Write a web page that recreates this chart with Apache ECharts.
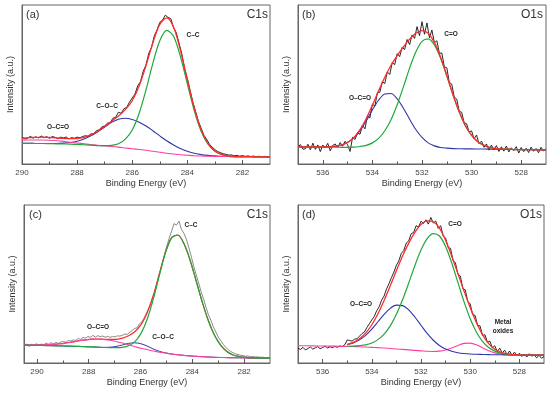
<!DOCTYPE html>
<html><head><meta charset="utf-8">
<script src="https://cdn.jsdelivr.net/npm/echarts@6/dist/echarts.min.js"></script>
<style>html,body{margin:0;padding:0;background:#fff}#c{width:550px;height:393px}</style>
</head><body><div id="c"></div>
<script>
// ---------- tick labels ----------
const ticksC1s = [282, 284, 286, 288, 290];
const minorC1s = [283, 285, 287, 289];
const ticksO1s = [528, 530, 532, 534, 536];
const minorO1s = [529, 531, 533, 535];

// ---------- energies ----------
const eRawA = [290.0,289.9,289.8,289.7,289.6,289.5,289.4,289.3,289.2,289.1,289.0,288.9,288.8,288.7,288.6,288.5,288.4,288.3,288.2,288.1,288.0,287.9,287.8,287.7,287.6,287.5,287.4,287.3,287.2,287.1,287.0,286.9,286.8,286.7,286.6,286.5,286.4,286.3,286.2,286.1,286.0,285.9,285.8,285.7,285.6,285.5,285.4,285.3,285.2,285.1,285.0,284.9,284.8,284.7,284.6,284.5,284.4,284.3,284.2,284.1,284.0,283.9,283.8,283.7,283.6,283.5,283.4,283.3,283.2,283.1,283.0,282.9,282.8,282.7,282.6,282.5,282.4,282.3,282.2,282.1,282.0,281.9,281.8,281.7,281.6,281.5,281.4,281.3,281.2,281.1,281.0];
const eFitA = [290,289.75,289.5,289.25,289,288.75,288.5,288.25,288,287.75,287.5,287.25,287,286.75,286.5,286.25,286,285.75,285.5,285.25,285,284.75,284.5,284.25,284,283.75,283.5,283.25,283,282.75,282.5,282.25,282,281.75,281.5,281.25,281];
const eRawC = [290.5,290.405,290.31,290.215,290.12,290.025,289.93,289.835,289.74,289.645,289.55,289.455,289.36,289.265,289.17,289.075,288.98,288.885,288.79,288.695,288.6,288.505,288.41,288.315,288.22,288.125,288.03,287.935,287.84,287.745,287.65,287.555,287.46,287.365,287.27,287.175,287.08,286.985,286.89,286.795,286.7,286.605,286.51,286.415,286.32,286.225,286.13,286.035,285.94,285.845,285.75,285.655,285.56,285.465,285.37,285.275,285.18,285.085,284.99,284.895,284.8,284.705,284.61,284.515,284.42,284.325,284.23,284.135,284.04,283.945,283.85,283.755,283.66,283.565,283.47,283.375,283.28,283.185,283.09,282.995,282.9,282.805,282.71,282.615,282.52,282.425,282.33,282.235,282.14,282.045,281.95,281.855,281.76,281.665,281.57,281.475,281.38,281.285,281.19,281.095,281.0];
const eFitC = [290.5,290.2625,290.025,289.7875,289.55,289.3125,289.075,288.8375,288.6,288.3625,288.125,287.8875,287.65,287.4125,287.175,286.9375,286.7,286.4625,286.225,285.9875,285.75,285.5125,285.275,285.0375,284.8,284.5625,284.325,284.0875,283.85,283.6125,283.375,283.1375,282.9,282.6625,282.425,282.1875,281.95,281.7125,281.475,281.2375,281.0];
const eRawO = [537.0,536.9,536.8,536.7,536.6,536.5,536.4,536.3,536.2,536.1,536.0,535.9,535.8,535.7,535.6,535.5,535.4,535.3,535.2,535.1,535.0,534.9,534.8,534.7,534.6,534.5,534.4,534.3,534.2,534.1,534.0,533.9,533.8,533.7,533.6,533.5,533.4,533.3,533.2,533.1,533.0,532.9,532.8,532.7,532.6,532.5,532.4,532.3,532.2,532.1,532.0,531.9,531.8,531.7,531.6,531.5,531.4,531.3,531.2,531.1,531.0,530.9,530.8,530.7,530.6,530.5,530.4,530.3,530.2,530.1,530.0,529.9,529.8,529.7,529.6,529.5,529.4,529.3,529.2,529.1,529.0,528.9,528.8,528.7,528.6,528.5,528.4,528.3,528.2,528.1,528.0,527.9,527.8,527.7,527.6,527.5,527.4,527.3,527.2,527.1,527.0];
const eFitO = [537,536.75,536.5,536.25,536,535.75,535.5,535.25,535,534.75,534.5,534.25,534,533.75,533.5,533.25,533,532.75,532.5,532.25,532,531.75,531.5,531.25,531,530.75,530.5,530.25,530,529.75,529.5,529.25,529,528.75,528.5,528.25,528,527.75,527.5,527.25,527];

// ---------- (a) C1s ----------
const aRaw = [16.9,15.8,16.2,17.4,16.3,17.1,16.4,17.6,16.5,17.2,16.1,17.3,16.8,15.9,16.9,16.4,17.0,15.8,16.6,16.2,16.9,16.5,17.3,17.8,17.4,18.9,19.0,20.9,21.5,23.4,23.9,25.6,26.0,28.8,29.4,32.6,31.9,34.8,35.6,38.9,41.5,44.0,49.2,51.8,58.4,62.3,69.7,73.2,80.6,84.3,89.1,90.5,93.6,92.2,91.4,85.7,82.6,75.9,69.3,60.2,53.8,46.4,38.9,33.1,26.9,22.6,18.1,15.6,12.5,10.6,9.1,7.8,7.2,6.4,6.1,5.6,5.7,5.2,5.4,4.9,5.3,4.8,5.1,4.7,5.0,4.6,4.9,4.5,4.8,4.4,4.7];
const aEnvelope = [16.3,16.6,16.7,16.9,16.7,16.4,16.1,15.9,16.0,16.8,18.3,20.6,23.6,26.9,30.2,34.2,39.8,49.0,61.9,76.3,87.8,91.9,86.1,71.5,52.9,35.2,21.5,12.9,8.2,6.0,5.1,4.7,4.6,4.6,4.5,4.5,4.5];
const aCC = [13.0,13.0,12.9,12.9,12.8,12.7,12.6,12.5,12.3,12.1,11.9,11.6,11.5,11.7,12.7,15.6,21.4,31.8,46.6,63.4,77.5,84.1,80.4,67.6,50.4,33.6,20.6,12.4,8.0,5.9,5.1,4.7,4.6,4.6,4.5,4.5,4.5];
const aCOC = [13.0,13.0,12.9,12.9,12.9,12.9,13.1,13.5,14.3,15.7,17.7,20.3,23.3,26.2,28.2,28.8,28.0,26.3,23.9,20.9,17.7,14.6,12.0,9.7,8.0,6.8,5.9,5.4,5.1,4.8,4.7,4.6,4.6,4.6,4.5,4.5,4.5];
const aOCO = [15.0,15.1,15.1,15.1,14.9,14.6,14.2,13.7,13.2,12.7,12.2,11.8,11.3,11.0,10.6,10.1,9.6,9.1,8.6,8.0,7.4,6.8,6.3,5.8,5.5,5.2,5.0,4.9,4.8,4.7,4.7,4.6,4.6,4.6,4.5,4.5,4.5];

// ---------- (b) O1s ----------
const bRaw = [10.9,12.2,9.3,9.6,12.4,8.9,13.1,9.2,12.0,7.8,11.9,10.1,13.0,8.3,11.7,12.6,10.4,13.5,11.2,14.3,12.1,7.9,16.8,15.4,19.6,18.7,24.5,22.1,30.2,29.0,37.6,36.4,44.9,45.1,51.8,50.6,57.9,56.3,63.8,62.5,69.4,67.6,73.5,72.0,78.3,75.1,81.2,79.0,86.4,80.7,89.5,81.6,88.7,79.4,84.2,76.3,77.5,69.6,69.8,61.2,60.5,51.4,50.2,42.1,40.8,33.2,32.5,25.9,25.3,20.2,20.8,15.9,18.2,12.8,14.4,10.5,12.6,8.7,11.9,8.8,11.6,7.9,10.8,8.1,11.3,7.6,10.2,8.4,10.9,6.9,10.4,7.8,9.9,7.2,10.6,8.0,9.8,7.1,10.5,8.2,9.6];
const bEnvelope = [10.8,10.8,10.8,10.7,10.7,10.8,11.2,11.9,13.6,16.6,21.6,28.5,37.0,46.0,54.6,62.1,68.2,73.6,78.5,82.2,83.9,82.2,76.5,67.2,55.7,43.6,32.8,24.1,18.0,14.0,11.7,10.3,9.7,9.4,9.3,9.1,9.1,9.0,9.0,8.9,8.9];
const bCO = [10.8,10.8,10.8,10.7,10.7,10.6,10.6,10.5,10.5,10.6,11.0,11.7,13.3,16.1,20.9,27.9,37.3,48.5,60.3,70.4,77.1,78.7,74.9,66.5,55.4,43.5,32.8,24.1,18.0,14.0,11.7,10.3,9.7,9.4,9.3,9.1,9.1,9.0,9.0,8.9,8.9];
const bOCO = [10.8,10.8,10.8,10.7,10.7,10.8,11.2,11.9,13.6,16.4,21.0,27.1,34.0,40.1,44.0,44.3,41.0,35.1,28.2,21.7,16.7,13.3,11.4,10.4,10.0,9.7,9.6,9.5,9.5,9.4,9.4,9.3,9.3,9.2,9.2,9.1,9.1,9.0,9.0,8.9,8.9];

// ---------- (c) C1s ----------
const cRaw = [11.0,12.1,10.4,11.8,10.9,12.3,11.2,12.0,11.5,12.6,11.9,12.8,12.1,13.0,12.4,13.3,13.6,13.1,14.2,13.9,14.6,14.3,15.4,15.0,16.1,15.7,16.8,16.2,17.5,16.4,17.3,16.6,17.1,16.3,16.9,16.2,16.8,16.5,17.2,17.0,17.6,18.3,18.1,19.4,20.6,21.9,22.3,24.9,26.1,29.0,32.4,35.6,40.1,44.8,50.3,56.2,61.8,67.9,73.6,78.9,83.4,88.2,87.3,89.8,84.6,82.1,78.4,73.0,67.5,61.2,55.8,50.6,45.1,40.3,35.2,30.4,26.9,22.8,19.6,16.4,14.1,11.8,9.9,8.6,7.3,6.5,5.8,5.4,4.9,4.7,4.3,4.4,4.0,4.1,3.8,3.9,3.6,3.7,3.4,3.5,3.3];
const cEnvelope = [11.3,11.3,11.4,11.4,11.6,11.8,12.2,12.8,13.4,14.1,14.6,15.1,15.2,15.0,14.9,15.0,15.7,17.2,19.8,24.1,31.5,42.4,56.4,70.2,79.3,81.0,75.6,65.2,51.9,38.4,26.6,17.4,11.2,7.3,5.1,4.1,3.5,3.2,3.1,3.0,3.0];
const cCC = [11.3,11.2,11.2,11.1,11.0,10.9,10.8,10.7,10.6,10.5,10.3,10.2,10.0,9.8,9.7,9.7,9.9,10.9,13.4,18.6,27.4,40.1,55.3,69.7,79.2,81.0,75.6,65.2,51.9,38.4,26.6,17.4,11.2,7.3,5.1,4.1,3.5,3.2,3.1,3.0,3.0];
const cCOC = [11.3,11.2,11.2,11.1,11.0,10.9,10.8,10.7,10.6,10.5,10.3,10.2,10.0,9.9,10.0,10.5,11.4,12.4,12.8,12.2,10.8,8.9,7.4,6.4,5.7,5.2,4.8,4.5,4.2,4.0,3.8,3.6,3.5,3.4,3.3,3.3,3.2,3.1,3.1,3.0,3.0];
const cOCO = [11.3,11.3,11.4,11.4,11.6,11.8,12.2,12.8,13.4,14.1,14.6,15.1,15.2,14.9,14.4,13.6,12.6,11.5,10.4,9.3,8.5,7.6,6.9,6.3,5.7,5.2,4.8,4.5,4.2,4.0,3.8,3.6,3.5,3.4,3.3,3.3,3.2,3.1,3.1,3.0,3.0];

// ---------- (d) O1s ----------
const dRaw = [9.4,8.6,9.9,8.3,9.1,10.2,8.8,9.6,10.4,9.0,9.8,10.6,9.5,10.3,9.7,10.5,9.9,10.8,10.4,11.5,14.6,14.2,13.9,15.1,15.3,17.0,18.6,19.6,22.4,24.8,27.3,29.5,33.1,35.6,39.8,42.4,46.9,50.3,54.1,57.6,61.9,64.7,69.4,71.2,75.9,77.3,81.8,82.6,86.9,86.1,89.7,88.3,90.6,87.9,92.1,88.6,89.8,85.2,86.9,80.4,79.1,73.2,72.5,65.0,63.4,56.1,55.0,47.1,46.3,39.0,37.4,30.6,30.1,23.8,23.5,17.4,17.9,13.1,13.8,9.6,10.9,7.2,9.4,6.3,8.1,5.2,7.6,4.8,6.9,4.5,6.2,4.1,5.7,3.8,5.9,4.3,5.2,3.3,4.8,3.0,4.1];
const dEnvelope = [10.9,10.9,10.9,10.8,10.8,10.7,10.9,11.1,11.8,13.0,15.4,18.9,24.2,31.2,39.6,48.9,58.5,67.7,75.9,82.7,87.7,90.0,89.4,85.4,77.7,67.6,56.6,45.5,35.1,25.7,18.0,12.3,8.7,6.8,5.8,5.3,5.0,5.0,5.0,5.0,5.0];
const dCO = [10.9,10.9,10.9,10.8,10.8,10.7,10.7,10.6,10.6,10.7,11.0,11.5,12.7,14.8,18.3,23.5,30.8,40.0,50.6,61.6,71.5,78.7,81.9,80.4,73.7,63.3,51.0,38.7,28.0,19.6,13.7,9.8,7.5,6.3,5.6,5.3,5.0,5.0,5.0,5.0,5.0];
const dOCO = [10.9,10.9,10.9,10.8,10.8,10.7,10.9,11.1,11.7,12.7,14.7,17.5,21.4,26.1,30.8,34.6,36.6,36.3,33.6,29.1,23.9,18.7,14.4,11.1,8.8,7.4,6.5,6.0,5.7,5.5,5.4,5.3,5.2,5.2,5.1,5.1,5.0,5.0,5.0,5.0,5.0];
const dMetalOx = [10.9,10.9,10.9,10.8,10.8,10.7,10.7,10.6,10.5,10.4,10.3,10.1,9.9,9.7,9.5,9.2,8.9,8.6,8.3,8.0,7.7,7.4,7.3,7.5,8.2,9.5,11.1,12.4,12.6,11.6,9.7,7.8,6.4,5.7,5.3,5.1,5.0,5.0,5.0,5.0,5.0];

// ---------- build ----------
const FONT = 'Liberation Sans, Arial, sans-serif';
const COL = {raw:'#111111', rawGray:'#7c7c7c', env:'#ff2a2a', green:'#1fa83a', blue:'#3036a8', pink:'#ff3fa0'};
const grids = [
  {left:22, top:5, width:248, height:159},
  {left:298, top:5, width:248, height:159},
  {left:24, top:205, width:246, height:158},
  {left:298, top:205, width:246, height:158}
];
const ranges = [[281,290],[527,537],[281,290.5],[527,537]];
const tickSets = [[ticksC1s,minorC1s],[ticksO1s,minorO1s],[ticksC1s,minorC1s],[ticksO1s,minorO1s]];

const xAxis = [], yAxis = [];
grids.forEach((g,i)=>{
  const [mn,mx] = ranges[i];
  xAxis.push({gridIndex:i, type:'value', min:mn, max:mx, inverse:true, position:'bottom',
    axisLine:{show:true, lineStyle:{color:'#666', width:1}},
    axisTick:{show:true, inside:true, length:4, customValues:tickSets[i][0], lineStyle:{color:'#555'}},
    axisLabel:{show:true, customValues:tickSets[i][0], fontSize:8, color:'#444', margin:5, fontFamily:FONT},
    splitLine:{show:false},
    name:'Binding Energy (eV)', nameLocation:'middle', nameGap:15,
    nameTextStyle:{fontSize:9, color:'#333', fontFamily:FONT}});
  xAxis.push({gridIndex:i, type:'value', min:mn, max:mx, inverse:true, position:'bottom',
    axisLine:{show:false}, axisLabel:{show:false}, splitLine:{show:false},
    axisTick:{show:true, inside:true, length:2.5, customValues:tickSets[i][1], lineStyle:{color:'#555'}}});
  yAxis.push({gridIndex:i, type:'value', min:0, max:100,
    axisLine:{show:true, lineStyle:{color:'#666'}}, axisTick:{show:false}, axisLabel:{show:false}, splitLine:{show:false},
    name:'Intensity (a.u.)', nameLocation:'middle', nameGap:7,
    nameTextStyle:{fontSize:9, color:'#333', fontFamily:FONT}});
});

function pairs(xs, ys, maxE){ const out=[]; xs.forEach((x,i)=>{ if(maxE===undefined || x<=maxE) out.push([x, ys[i]]); }); return out; }
function line(gi, xs, ys, color, width, z, smooth, maxE){
  return {type:'line', xAxisIndex:gi*2, yAxisIndex:gi, data:pairs(xs,ys,maxE), symbol:'none', showSymbol:false,
    smooth: smooth ? 0.3 : false, lineStyle:{color:color, width:width}, z:z, silent:true, animation:false};
}
const series = [
  line(0, eRawA, aRaw, COL.raw, 0.9, 2, false),
  line(0, eFitA, aCOC, COL.blue, 1.1, 3, true),
  line(0, eFitA, aOCO, COL.pink, 1.1, 3, true),
  line(0, eFitA, aCC, COL.green, 1.2, 4, true),
  line(0, eFitA, aEnvelope, COL.env, 1.3, 5, true),

  line(1, eRawO, bRaw, COL.raw, 0.9, 2, false),
  line(1, eFitO, bOCO, COL.blue, 1.1, 3, true),
  line(1, eFitO, bCO, COL.green, 1.2, 4, true),
  line(1, eFitO, bEnvelope, COL.env, 1.3, 5, true),

  line(2, eRawC, cRaw, COL.rawGray, 0.9, 2, false),
  line(2, eFitC, cEnvelope, COL.env, 1.2, 3, true),
  line(2, eFitC, cCOC, COL.blue, 1.0, 4, true),
  line(2, eFitC, cOCO, COL.pink, 1.1, 4, true),
  line(2, eFitC, cCC, COL.green, 1.2, 5, true),

  line(3, eRawO, dRaw, COL.raw, 0.9, 2, false),
  line(3, eFitO, dMetalOx, COL.pink, 1.1, 3, true),
  line(3, eFitO, dOCO, COL.blue, 1.1, 3, true, 535),
  line(3, eFitO, dCO, COL.green, 1.2, 4, true, 535),
  line(3, eFitO, dEnvelope, COL.env, 1.3, 5, true, 535)
];

function txt(x, y, s, font, align, color){
  return {type:'text', x:x, y:y, z:100, silent:true,
    style:{text:s, font:font, fill:color||'#222', align:align||'center', verticalAlign:'middle'}};
}
const panelFont = '11px ' + FONT, coreFont = '12px ' + FONT, annFont = 'bold 6.5px ' + FONT;
const graphic = [
  txt(26, 15, '(a)', panelFont, 'left', '#333'), txt(268, 15, 'C1s', coreFont, 'right', '#333'),
  txt(302, 15, '(b)', panelFont, 'left', '#333'), txt(543, 15, 'O1s', coreFont, 'right', '#333'),
  txt(29, 215, '(c)', panelFont, 'left', '#333'), txt(268, 215, 'C1s', coreFont, 'right', '#333'),
  txt(302, 215, '(d)', panelFont, 'left', '#333'), txt(542, 215, 'O1s', coreFont, 'right', '#333'),
  txt(193, 35, 'C–C', annFont), txt(107, 106, 'C–O–C', annFont), txt(58, 127, 'O–C=O', annFont),
  txt(451, 34, 'C=O', annFont), txt(360, 98, 'O–C=O', annFont),
  txt(191, 225, 'C–C', annFont), txt(98, 327, 'O–C=O', annFont), txt(163, 337, 'C–O–C', annFont),
  txt(455, 224, 'C=O', annFont), txt(361, 304, 'O–C=O', annFont),
  txt(503, 322, 'Metal', annFont), txt(503, 331, 'oxides', annFont)
];

const chart = echarts.init(document.getElementById('c'), null, {renderer:'canvas'});
chart.setOption({
  animation:false,
  backgroundColor:'#ffffff',
  grid: grids.map(g=>Object.assign({show:true, borderColor:'#666', borderWidth:1, backgroundColor:'transparent', containLabel:false}, g)),
  xAxis: xAxis, yAxis: yAxis, series: series, graphic: graphic
});
</script></body></html>
